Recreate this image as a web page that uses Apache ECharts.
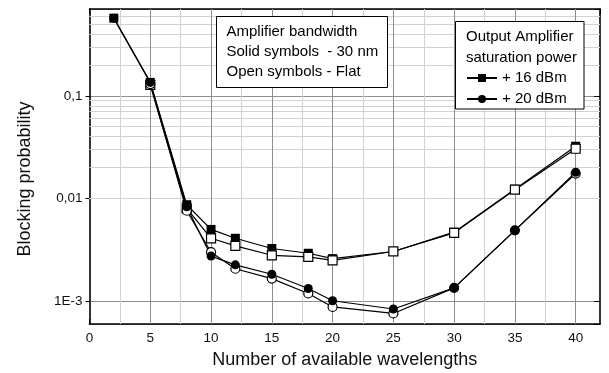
<!DOCTYPE html>
<html><head><meta charset="utf-8">
<script src="https://cdn.jsdelivr.net/npm/echarts@6/dist/echarts.min.js"></script>
<style>html,body{margin:0;padding:0;background:#fff}#c{width:609px;height:373px}</style>
</head><body><div id="c"></div>
<script>
// ---- data ----
const wavelengths = [2, 5, 8, 10, 12, 15, 18, 20, 25, 30, 35, 40];
const p16Solid = [0.57, 0.135, 0.0087, 0.0050, 0.0041, 0.00326, 0.00293, 0.0026, 0.00305, 0.0047, 0.0123, 0.0323];
const p16Open  = [null, 0.128, 0.0080, 0.0041, 0.00346, 0.0028, 0.0027, 0.0025, 0.00305, 0.00463, 0.0122, 0.0305];
const p20Solid = [0.57, 0.135, 0.0083, 0.00275, 0.00226, 0.00183, 0.00133, 0.00101, 0.00084, 0.00135, 0.0049, 0.018];
const p20Open  = [null, 0.13, 0.0076, 0.0030, 0.00207, 0.00166, 0.00119, 0.00088, 0.00076, 0.00135, 0.0049, 0.0175];

const xTickLabels = ['0', '5', '10', '15', '20', '25', '30', '35', '40'];
const yTickValues = [0.001, 0.01, 0.1];
const yTickLabels = ['1E-3', '0,01', '0,1'];
const xMajorGrid = [5, 10, 15, 20, 25, 30, 35, 40];
const xMinorGrid = [2.5, 7.5, 12.5, 17.5, 22.5, 27.5, 32.5, 37.5];
const yMinorGrid = [0.0007, 0.0008, 0.0009,
  0.002, 0.003, 0.004, 0.005, 0.006, 0.007, 0.008, 0.009,
  0.02, 0.03, 0.04, 0.05, 0.06, 0.07, 0.08, 0.09,
  0.2, 0.3, 0.4, 0.5, 0.6];
const legendNames = ['+ 16 dBm', '+ 20 dBm'];
const box1Lines = ['Amplifier bandwidth', 'Solid symbols  - 30 nm', 'Open symbols - Flat'];
const box2Lines = ['Output Amplifier', 'saturation power'];

// ---- chart ----
const FONT = '"Liberation Sans", Arial, sans-serif';
const pairs = arr => wavelengths.map((x, i) => [x, arr[i]]).filter(p => p[1] != null);

function mkSeries(name, arr, symbol, filled) {
  return {
    name: name, type: 'line', data: pairs(arr), symbol: symbol, symbolSize: 9,
    showSymbol: true, animation: false, silent: true,
    lineStyle: { color: '#000', width: 1.2 },
    itemStyle: { color: filled ? '#000' : '#fff', borderColor: '#000', borderWidth: filled ? 0 : 1.2 },
    emphasis: { disabled: true }
  };
}

const gridLines = []
  .concat(xMinorGrid.map(v => ({ xAxis: v, lineStyle: { color: '#d2d2d2', width: 1, type: 'solid' } })))
  .concat(yMinorGrid.map(v => ({ yAxis: v, lineStyle: { color: '#d2d2d2', width: 1, type: 'solid' } })))
  .concat(xMajorGrid.map(v => ({ xAxis: v, lineStyle: { color: '#8e8e8e', width: 1, type: 'solid' } })));

const s0 = mkSeries(legendNames[0], p16Solid, 'rect', true);
s0.markLine = { silent: true, symbol: ['none', 'none'], label: { show: false }, z: 1, animation: false, data: gridLines };
const series = [
  s0,
  mkSeries('16 open', p16Open, 'rect', false),
  mkSeries('20 open', p20Open, 'circle', false),
  mkSeries(legendNames[1], p20Solid, 'circle', true)
];

const yFmt = v => {
  for (let i = 0; i < yTickValues.length; i++) {
    if (Math.abs(Math.log10(v) - Math.log10(yTickValues[i])) < 1e-6) return yTickLabels[i];
  }
  return '';
};
const xFmt = v => {
  const s = String(v);
  return xTickLabels.indexOf(s) >= 0 ? s : '';
};

const axisLineStyle = { color: '#000', width: 1.6 };
const option = {
  animation: false,
  backgroundColor: '#fff',
  grid: { left: 89.5, right: 9, top: 9, bottom: 49, outerBoundsMode: 'none', containLabel: false },
  xAxis: [
    { type: 'value', min: 0, max: 42, interval: 2.5, position: 'bottom',
      axisLine: { show: true, onZero: false, lineStyle: axisLineStyle },
      axisTick: { show: true, inside: true, length: 5, lineStyle: { color: '#000', width: 1 } },
      axisLabel: { formatter: xFmt, color: '#111', fontSize: 13.5, fontFamily: FONT, margin: 7, showMaxLabel: false },
      splitLine: { show: false },
      name: 'Number of available wavelengths', nameLocation: 'middle', nameGap: 27,
      nameTextStyle: { fontSize: 18, fontFamily: FONT, color: '#111' } },
    { type: 'value', min: 0, max: 42, interval: 2.5, position: 'top',
      axisLine: { show: true, onZero: false, lineStyle: axisLineStyle },
      axisTick: { show: true, inside: true, length: 5, lineStyle: { color: '#000', width: 1 } },
      axisLabel: { show: false }, splitLine: { show: false } }
  ],
  yAxis: [
    { type: 'log', logBase: 10, min: 0.0006, max: 0.7, position: 'left',
      axisLine: { show: true, onZero: false, lineStyle: axisLineStyle },
      axisTick: { show: true, inside: false, length: 4, lineStyle: { color: '#000', width: 1 } },
      axisLabel: { formatter: yFmt, color: '#111', fontSize: 13.5, fontFamily: FONT, margin: 7, showMinLabel: false, showMaxLabel: false },
      splitLine: { show: true, lineStyle: { color: '#8e8e8e', width: 1 } } },
    { type: 'log', logBase: 10, min: 0.0006, max: 0.7, position: 'right',
      axisLine: { show: true, onZero: false, lineStyle: axisLineStyle },
      axisTick: { show: true, inside: true, length: 6, lineStyle: { color: '#000', width: 1 } },
      axisLabel: { show: false }, splitLine: { show: false } }
  ],
  legend: {
    data: legendNames, orient: 'vertical', left: 466, top: 70.5,
    itemWidth: 30, itemHeight: 10, itemGap: 6, z: 120,
    selectedMode: false, padding: 0,
    textStyle: { fontSize: 15, fontFamily: FONT, color: '#000', padding: [0, 0, 0, 0] }
  },
  graphic: [
    { type: 'rect', z: 100, shape: { x: 216.5, y: 16.5, width: 171, height: 71 },
      style: { fill: '#fff', stroke: '#000', lineWidth: 1 } },
    ...box1Lines.map((t, i) => ({ type: 'text', z: 101, x: 226.5, y: 32.3 + i * 20,
      style: { text: t, font: '15px ' + FONT, fill: '#000', verticalAlign: 'middle', align: 'left' } })),
    { type: 'rect', z: 100, shape: { x: 455.5, y: 21.5, width: 128.5, height: 87.5 },
      style: { fill: '#fff', stroke: '#000', lineWidth: 1 } },
    ...box2Lines.map((t, i) => ({ type: 'text', z: 101, x: 466, y: 37.3 + i * 21,
      style: { text: t, font: '15px ' + FONT, fill: '#000', verticalAlign: 'middle', align: 'left' } })),
    { type: 'text', z: 101, x: 25, y: 179, rotation: Math.PI / 2,
      style: { text: 'Blocking probability', font: '18px ' + FONT, fill: '#111', verticalAlign: 'middle', align: 'center' } }
  ],
  series: series
};
const chart = echarts.init(document.getElementById('c'), null, { renderer: 'canvas' });
chart.setOption(option);
</script></body></html>
